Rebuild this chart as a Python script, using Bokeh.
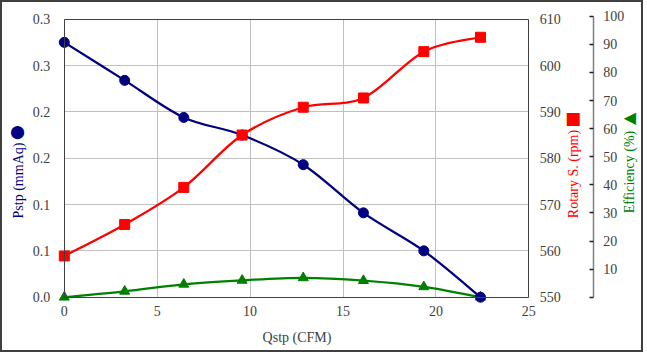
import numpy as np
from bokeh.plotting import figure
from bokeh.models import Range1d, LinearAxis, FixedTicker, Label, Grid
from bokeh.embed import file_html
from bokeh.resources import INLINE

# ---------------- data ----------------
qstp = [0.0, 3.25, 6.43, 9.57, 12.86, 16.1, 19.35, 22.4]
pstp = [0.275, 0.234, 0.194, 0.175, 0.143, 0.091, 0.050, 0.0]
rpm = [558.9, 565.7, 573.7, 585.0, 591.0, 593.0, 603.0, 606.1]
eff = [0.0, 2.1, 4.6, 6.0, 6.9, 5.9, 3.7, 0.0]

x_ticks = [0, 5, 10, 15, 20, 25]
p_ticks = [0, 0.05, 0.1, 0.15, 0.2, 0.25, 0.3]
p_tick_labels = ["0.0", "0.1", "0.1", "0.2", "0.2", "0.3", "0.3"]
rpm_ticks = [550, 560, 570, 580, 590, 600, 610]
eff_ticks = [0, 10, 20, 30, 40, 50, 60, 70, 80, 90, 100]
eff_tick_labels = ["", "10", "20", "30", "40", "50", "60", "70", "80", "90", "100"]

x_title = "Qstp (CFM)"
p_title = "Pstp (mmAq)"
rpm_title = "Rotary S. (rpm)"
eff_title = "Efficiency (%)"

NAVY = "#000080"
RED = "#FF0000"
GREEN = "#008000"
AX = "#404040"
FONT = "Liberation Serif"
FS = "14px"

# ---------------- layout (canvas pixels) ----------------
W, H = 643, 352                       # canvas (inside a 2px page border)
PL, PR, PT, PB = 61.8, 526.3, 16.7, 294.7   # plot-area edges
EFF_TOP = 13.7                        # pixel row of efficiency 100
EFF_AX_PX = 590.7                     # efficiency axis line


def ext(v0, v1, a0, a1, lo, hi):
    k = (v1 - v0) / (a1 - a0)
    return v0 + (lo - a0) * k, v0 + (hi - a0) * k


x_lo, x_hi = ext(x_ticks[0], x_ticks[-1], PL, PR, 0, W)
y_lo, y_hi = ext(p_ticks[0], p_ticks[-1], PB, PT, H, 0)
r_lo, r_hi = ext(rpm_ticks[0], rpm_ticks[-1], PB, PT, H, 0)
e_lo, e_hi = ext(eff_ticks[0], eff_ticks[-1], PB, EFF_TOP, H, 0)
eff_loc = ext(x_ticks[0], x_ticks[-1], PL, PR, EFF_AX_PX, EFF_AX_PX)[0]

p = figure(width=W, height=H, output_backend="svg", toolbar_location=None,
           x_range=Range1d(x_lo, x_hi), y_range=Range1d(y_lo, y_hi),
           min_border_left=0, min_border_right=0, min_border_top=0, min_border_bottom=0)
p.styles = {"border": "2px solid #404040"}
p.extra_y_ranges = {"rpm": Range1d(r_lo, r_hi), "eff": Range1d(e_lo, e_hi)}
p.outline_line_color = None
p.background_fill_color = "white"
p.border_fill_color = "white"

# ---------------- grid ----------------
x0, x1 = x_ticks[0], x_ticks[-1]
ya0, ya1 = p_ticks[0], p_ticks[-1]
if "cross_bounds" in Grid.properties():
    p.xgrid.ticker = FixedTicker(ticks=x_ticks)
    p.ygrid.ticker = FixedTicker(ticks=p_ticks)
    p.xgrid.cross_bounds = (ya0, ya1)
    p.ygrid.cross_bounds = (x0, x1)
    for g in (p.xgrid, p.ygrid):
        g.grid_line_color = "#c0c0c0"
        g.grid_line_width = 1
else:
    p.xgrid.visible = False
    p.ygrid.visible = False
    p.segment(x0=x_ticks, y0=[ya0] * len(x_ticks), x1=x_ticks, y1=[ya1] * len(x_ticks),
              line_color="#c0c0c0", line_width=1, level="underlay")
    p.segment(x0=[x0] * len(p_ticks), y0=p_ticks, x1=[x1] * len(p_ticks), y1=p_ticks,
              line_color="#c0c0c0", line_width=1, level="underlay")


def style_axis(ax):
    ax.major_label_text_font = FONT
    ax.major_label_text_font_size = FS
    ax.major_label_text_color = AX
    ax.minor_tick_line_color = None
    ax.major_tick_in = 0
    ax.major_tick_out = 0
    ax.axis_line_color = AX
    ax.axis_line_width = 1


# bottom axis
xa = p.xaxis[0]
style_axis(xa)
xa.ticker = FixedTicker(ticks=x_ticks)
xa.bounds = (x0, x1)
xa.fixed_location = ya0
xa.major_label_standoff = 9

# top border line
ta = LinearAxis(ticker=FixedTicker(ticks=[]), bounds=(x0, x1), fixed_location=ya1)
style_axis(ta)
p.add_layout(ta, "above")

# left axis
ya = p.yaxis[0]
style_axis(ya)
ya.ticker = FixedTicker(ticks=p_ticks)
ya.major_label_overrides = {t: l for t, l in zip(p_ticks, p_tick_labels)}
ya.bounds = (ya0, ya1)
ya.fixed_location = x0
ya.major_label_standoff = 14

# right axis: rotary speed
ra = LinearAxis(y_range_name="rpm", fixed_location=x1, bounds=(rpm_ticks[0], rpm_ticks[-1]))
style_axis(ra)
ra.ticker = FixedTicker(ticks=rpm_ticks)
ra.major_label_standoff = 11
p.add_layout(ra, "right")

# right axis: efficiency
ea = LinearAxis(y_range_name="eff", fixed_location=eff_loc, bounds=(eff_ticks[0], eff_ticks[-1]))
style_axis(ea)
ea.ticker = FixedTicker(ticks=eff_ticks)
ea.major_label_overrides = {t: l for t, l in zip(eff_ticks, eff_tick_labels)}
ea.axis_line_color = "#808080"
ea.axis_line_width = 1.5
ea.major_tick_in = 4
ea.major_tick_out = 0
ea.major_tick_line_color = "#202020"
ea.major_tick_line_width = 1.5
ea.major_label_standoff = 10
p.add_layout(ea, "right")


def bez(xs, ys):
    n = len(xs)
    d = dict(x0=[], y0=[], x1=[], y1=[], cx0=[], cy0=[], cx1=[], cy1=[])
    for i in range(n - 1):
        xm, ym = (xs[i - 1], ys[i - 1]) if i > 0 else (xs[i], ys[i])
        xp, yp = (xs[i + 2], ys[i + 2]) if i + 2 < n else (xs[i + 1], ys[i + 1])
        d["x0"].append(xs[i]); d["y0"].append(ys[i])
        d["x1"].append(xs[i + 1]); d["y1"].append(ys[i + 1])
        d["cx0"].append(xs[i] + (xs[i + 1] - xm) / 6)
        d["cy0"].append(ys[i] + (ys[i + 1] - ym) / 6)
        d["cx1"].append(xs[i + 1] - (xp - xs[i]) / 6)
        d["cy1"].append(ys[i + 1] - (yp - ys[i]) / 6)
    return d


LW = 2.25
# efficiency (green)
p.bezier(**bez(qstp, eff), line_color=GREEN, line_width=LW, y_range_name="eff")
p.scatter(qstp, eff, marker="triangle", size=10, color=GREEN, y_range_name="eff")
# pressure (navy)
p.bezier(**bez(qstp, pstp), line_color=NAVY, line_width=LW)
p.scatter(qstp, pstp, marker="circle", size=10, color=NAVY)
# rotary speed (red)
p.bezier(**bez(qstp, rpm), line_color=RED, line_width=LW, y_range_name="rpm")
p.scatter(qstp, rpm, marker="square", size=10, color=RED, y_range_name="rpm")


# ---------------- titles (screen px from the canvas' left / bottom) ----------------
def lab(x, y, text, color, font=FONT, size=FS, angle=np.pi / 2):
    p.add_layout(Label(x=x, y=y, x_units="screen", y_units="screen", text=text,
                       text_color=color, text_font=font, text_font_size=size,
                       text_align="center", text_baseline="middle", angle=angle))


lab(294.5, 17, x_title, AX, angle=0)
lab(15.5, 174, p_title, NAVY)
lab(15.0, 223, "\u2B24", NAVY, font="DejaVu Sans", size="13px", angle=0)
lab(570.5, 180.5, rpm_title, RED)
lab(570.5, 237, "\u25A0", RED, font="DejaVu Sans", size="17px", angle=0)
lab(627.0, 182.5, eff_title, GREEN)
lab(627.3, 236.7, "\u25C0", GREEN, font="DejaVu Sans", size="16px", angle=0)

open("out.html", "w").write(file_html(p, INLINE))
